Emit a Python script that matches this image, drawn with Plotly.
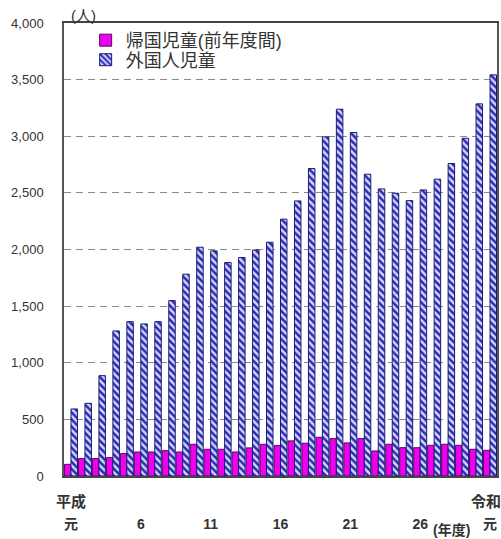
import plotly.graph_objects as go

# School years: Heisei 1 (元) to Heisei 30, then Reiwa 1 (元)
years = ["平成元"] + [f"平成{i}" for i in range(2, 31)] + ["令和元"]

# Returnee children (counted over the previous school year)
returnees = [103, 154, 154, 162, 198, 212, 212, 224, 212, 280,
             236, 236, 212, 248, 280, 268, 310, 289, 342, 330,
             292, 330, 221, 280, 250, 250, 271, 280, 271, 236,
             227]

# Foreign national children
foreign = [592, 642, 886, 1281, 1363, 1343, 1363, 1549, 1782, 2020,
           1988, 1885, 1929, 1996, 2064, 2268, 2429, 2715, 2995, 3239,
           3033, 2665, 2535, 2497, 2432, 2526, 2621, 2759, 2982, 3286,
           3542]

tick_years = ["平成元", "平成6", "平成11", "平成16", "平成21", "平成26", "令和元"]
tick_text = ["元", "6", "11", "16", "21", "26", "元"]

FONT = "Liberation Sans, Arial, Noto Sans CJK JP, sans-serif"
TEXT = "#333333"

fig = go.Figure()
fig.add_trace(go.Bar(
    x=years, y=returnees, name="帰国児童(前年度間)", showlegend=True,
    marker=dict(color="#f000f0", line=dict(color="#4a1050", width=1)),
    legend="legend",
))
fig.add_trace(go.Bar(
    x=years, y=foreign, name="外国人児童", showlegend=True,
    marker=dict(
        color="#d6d6f8",
        line=dict(color="#1c1c70", width=1),
        pattern=dict(shape="\\", fillmode="replace", fgcolor="#2a2ab8",
                     bgcolor="#d6d6f8", size=5, solidity=0.5),
    ),
    legend="legend2",
))

legend_common = dict(
    xanchor="left", yanchor="middle", bgcolor="rgba(0,0,0,0)",
    borderwidth=0, font=dict(family=FONT, size=18, color=TEXT),
)

fig.update_layout(
    template="none",
    showlegend=True,
    width=501, height=539,
    margin=dict(l=64, r=4, t=23, b=63, autoexpand=False),
    paper_bgcolor="white", plot_bgcolor="white",
    barmode="group", bargap=0.07, bargroupgap=0,
    font=dict(family=FONT, color=TEXT),
    legend=dict(x=0.05, y=0.9614, **legend_common),
    legend2=dict(x=0.05, y=0.9183, **legend_common),
    xaxis=dict(
        type="category", tickmode="array", tickvals=tick_years, ticktext=tick_text,
        range=[-0.5, len(years) - 0.5],
        showline=True, linecolor="#444444", linewidth=1.5, mirror=True,
        ticks="", showgrid=False, zeroline=False, automargin=False,
        ticklabelstandoff=34,
        tickfont=dict(family=FONT, size=14, color=TEXT, weight="bold"),
    ),
    yaxis=dict(
        range=[0, 4000], dtick=500, tickformat=",",
        showgrid=True, gridcolor="#8a8a8a", gridwidth=1, griddash="7px,5px",
        showline=True, linecolor="#555555", linewidth=1.5, mirror=True,
        ticks="", zeroline=False, automargin=False, ticklabelstandoff=16,
        tickfont=dict(family=FONT, size=13, color=TEXT),
    ),
    annotations=[
        dict(text="(人)", xref="paper", yref="paper", x=0.046, y=1.0155,
             xanchor="center", yanchor="middle", showarrow=False,
             font=dict(family=FONT, size=15, color=TEXT)),
        dict(text="平成", xref="x", yref="paper", x="平成元", y=-0.0552,
             xanchor="center", yanchor="middle", showarrow=False,
             font=dict(family=FONT, size=15, color=TEXT, weight="bold")),
        dict(text="令和", xref="x", yref="paper", x="令和元", y=-0.0552,
             xanchor="center", yanchor="middle", showarrow=False, xshift=-4,
             font=dict(family=FONT, size=15, color=TEXT, weight="bold")),
        dict(text="(年度)", xref="paper", yref="paper", x=0.895, y=-0.1192,
             xanchor="center", yanchor="middle", showarrow=False,
             font=dict(family=FONT, size=14, color=TEXT, weight="bold")),
    ],
)

fig.write_html("out.html")
